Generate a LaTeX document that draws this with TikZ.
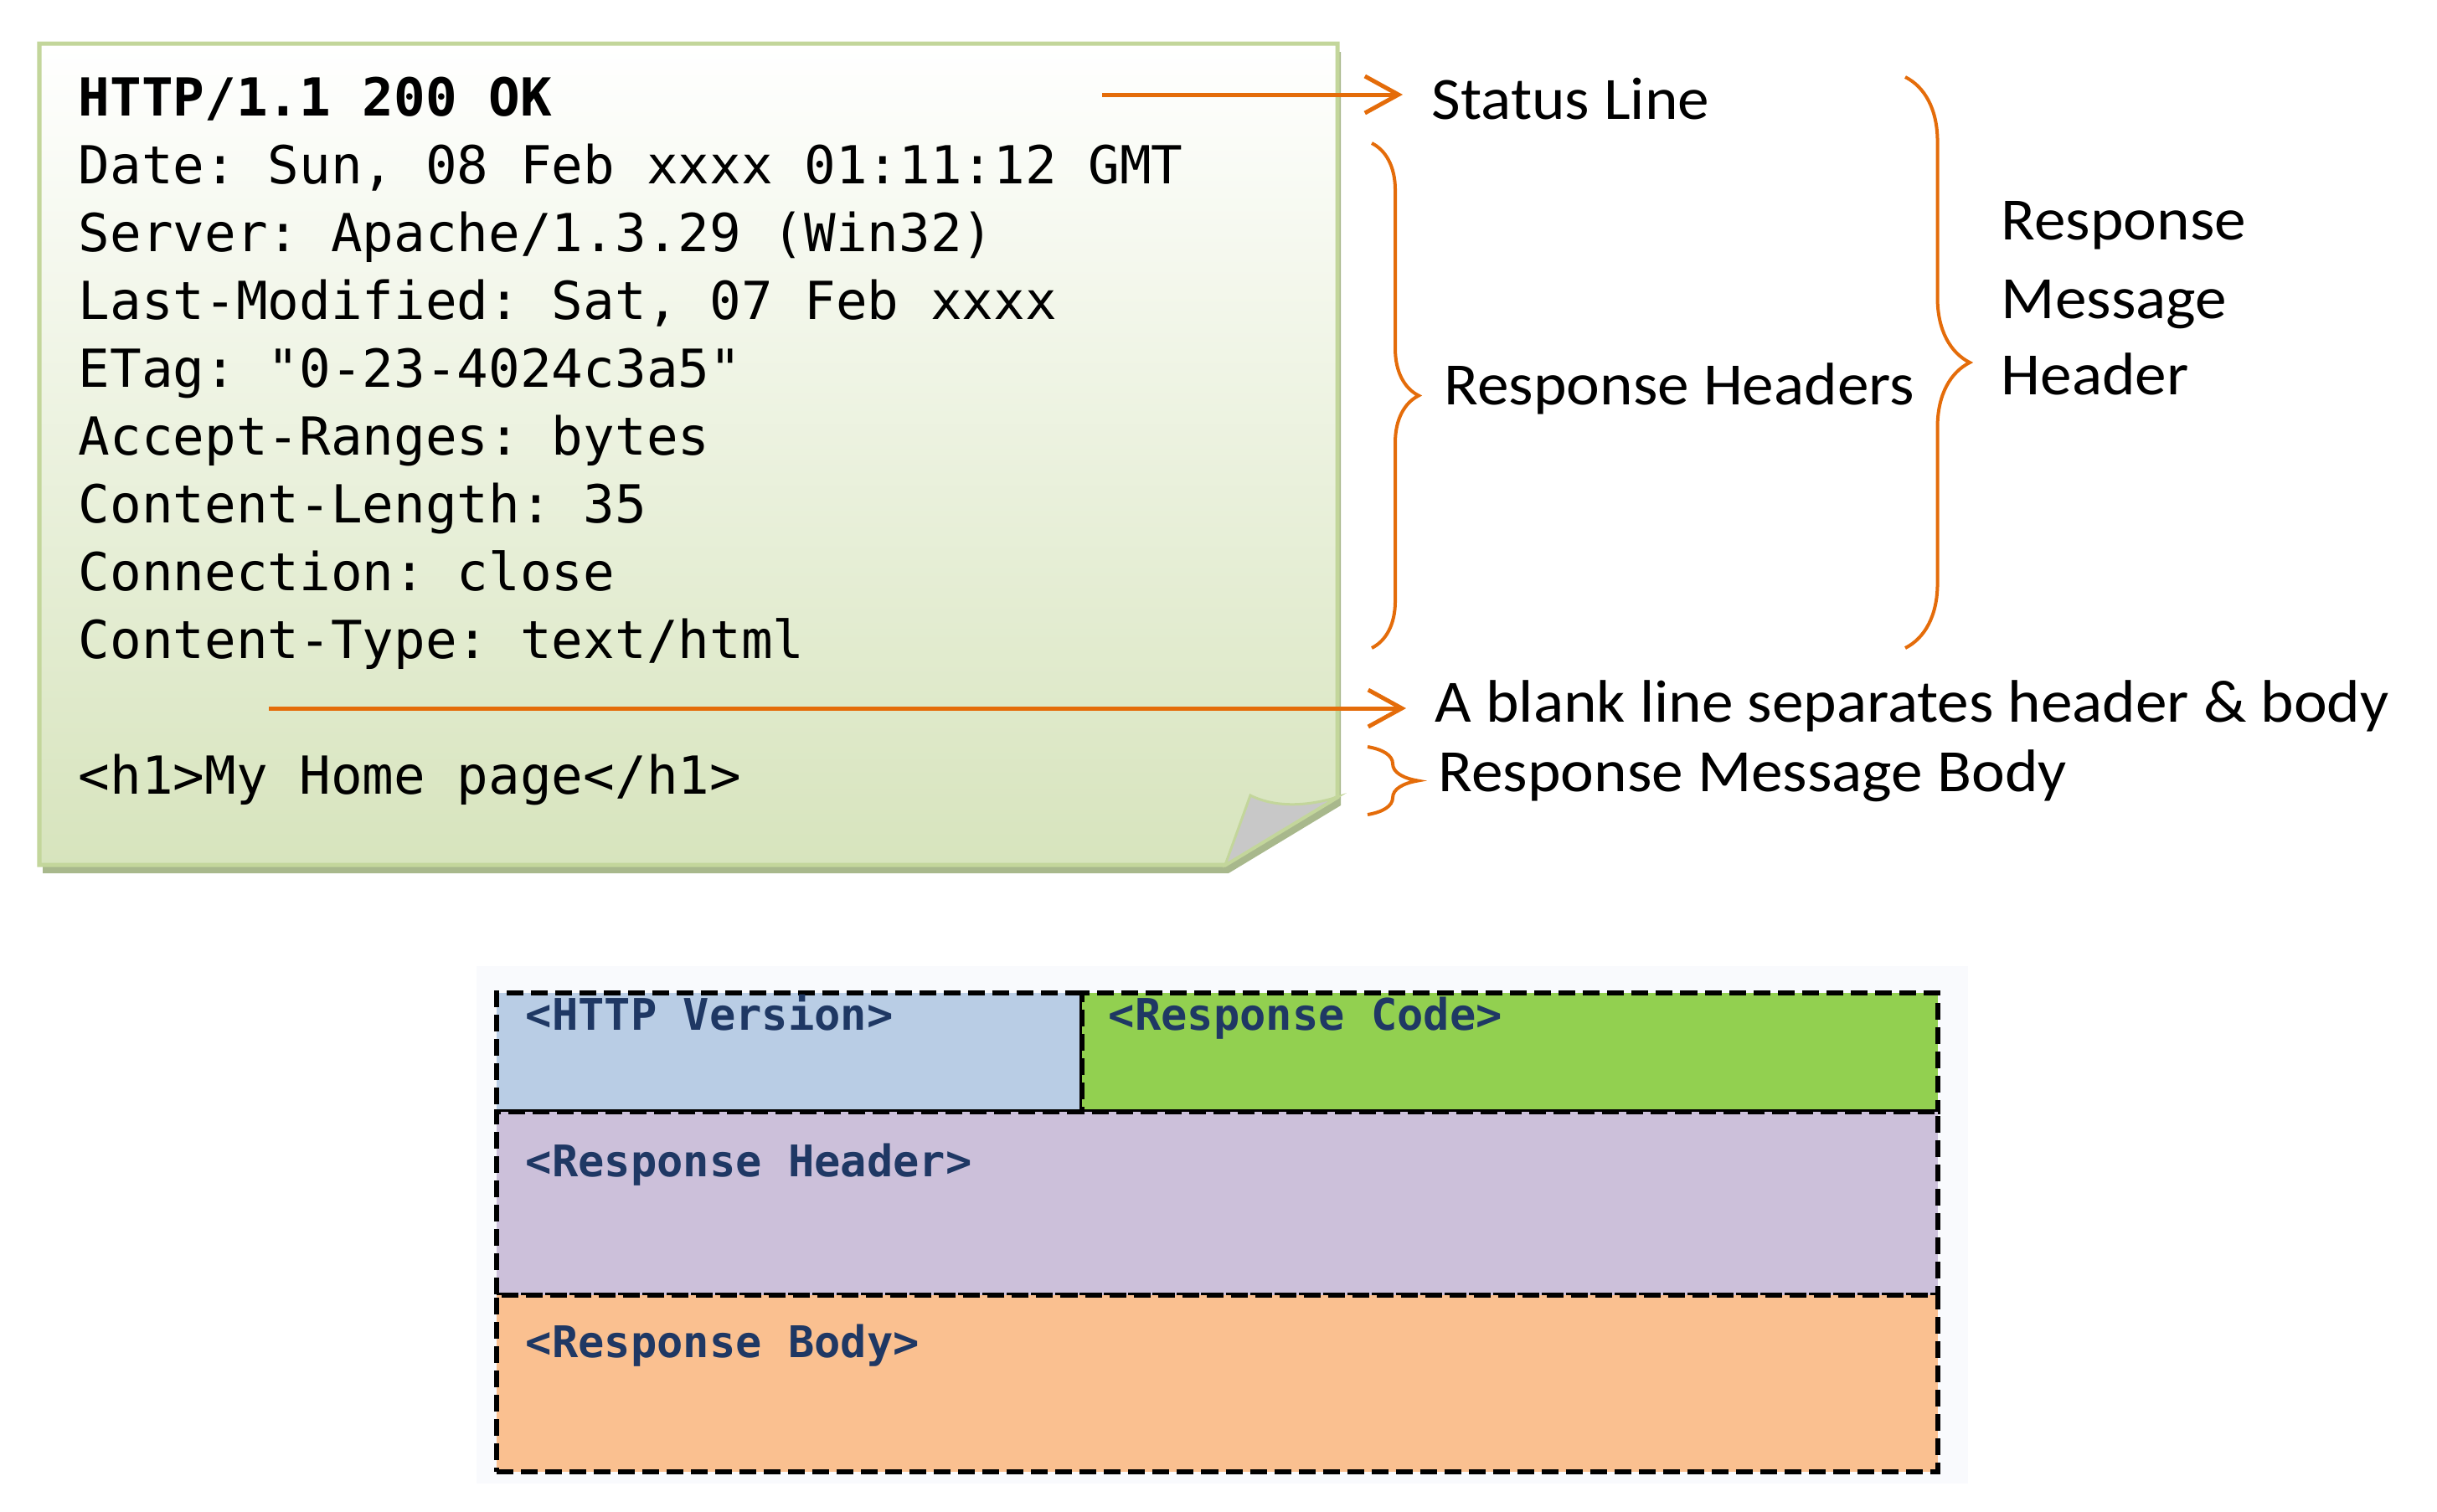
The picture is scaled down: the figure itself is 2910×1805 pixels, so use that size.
\documentclass[tikz,border=0pt]{standalone}
\usepackage{fontspec}
\setmainfont[FakeStretch=1.05]{Carlito}
\setmonofont{DejaVu Sans Mono}
\usetikzlibrary{arrows.meta, positioning, decorations.pathreplacing}
\definecolor{arrowc}{RGB}{228,108,10}
\definecolor{noteline}{RGB}{195,214,155}
\definecolor{notefill}{RGB}{215,228,189}
\definecolor{noteshadow}{RGB}{168,184,140}
\definecolor{foldgrey}{RGB}{200,200,200}
\definecolor{verblue}{RGB}{185,205,229}
\definecolor{codegreen}{RGB}{146,208,80}
\definecolor{hdrpurple}{RGB}{204,192,218}
\definecolor{bodyorange}{RGB}{250,192,144}
\definecolor{celltext}{RGB}{31,56,100}
\definecolor{panelbg}{RGB}{249,250,253}

\begin{document}
\begin{tikzpicture}[
    x=0.01cm, y=-0.01cm,
    code/.style={anchor=base west, inner sep=0, font=\ttfamily\fontsize{17.8}{20}\selectfont},
    lbl/.style={anchor=base west, inner sep=0, font=\fontsize{20.4}{24}\selectfont},
    arrow/.style={-{Straight Barb[length=0.4cm, width=0.44cm]}, line width=0.05cm, arrowc, shorten >=0.34cm},
    curly/.style={decorate, decoration={brace, amplitude=#1}, line width=0.04cm, arrowc},
    cell/.style={draw=black, line width=0.06cm, dash pattern=on 0.2cm off 0.09cm, anchor=north west, inner sep=0},
    celltxt/.style={anchor=base west, inner sep=0, text=celltext, font=\ttfamily\bfseries\fontsize{14.8}{17}\selectfont}
]
    \useasboundingbox (0,0) rectangle (2910,1805);

    % Note with folded corner
    \fill[noteshadow] (51,62) -- (1601,62) -- (1601,962) -- (1467,1043) -- (51,1043) -- cycle;
    \shade[top color=white, middle color=notefill!70, bottom color=notefill, draw=noteline, line width=0.05cm]
        (47,52) -- (1597,52) -- (1597,952) -- (1463,1033) -- (47,1033) -- cycle;
    \filldraw[fill=foldgrey, draw=noteline, line width=0.03cm]
        (1463,1033) -- (1493,950) .. controls (1525,966) and (1565,962) .. (1597,952) -- cycle;

    % Response lines
    \node[code, font=\ttfamily\bfseries\fontsize{17.8}{20}\selectfont] (status) at (93,138) {HTTP/1.1 200 OK};
    \node[code] (date) at (93,219) {Date: Sun, 08 Feb xxxx 01:11:12 GMT};
    \node[code] (server) at (93,300) {Server: Apache/1.3.29 (Win32)};
    \node[code] (lastmod) at (93,381) {Last-Modified: Sat, 07 Feb xxxx};
    \node[code] (etag) at (93,462) {ETag: "0-23-4024c3a5"};
    \node[code] (ranges) at (93,543) {Accept-Ranges: bytes};
    \node[code] (length) at (93,624) {Content-Length: 35};
    \node[code] (conn) at (93,705) {Connection: close};
    \node[code] (ctype) at (93,786) {Content-Type: text/html};
    \node[code] (html) at (93,948) {<h1>My Home page</h1>};

    % Labels
    \node[lbl] (statusLbl) at (1709,142) {Status Line};
    \node[lbl] (hdrsLbl) at (1724,483) {Response Headers};
    \node[lbl] (rmhA) at (2389,286) {Response};
    \node[lbl] (rmhB) at (2389,380) {Message};
    \node[lbl] (rmhC) at (2389,471) {Header};
    \node[lbl] (blankLbl) at (1713,862) {A blank line separates header \& body};
    \node[lbl] (bodyLbl) at (1717,945) {Response Message Body};

    % Arrows
    \coordinate (statusFrom) at (1316,113);
    \coordinate (blankFrom) at (321,846);
    \draw[arrow] (statusFrom) -- (statusFrom -| statusLbl.west);
    \draw[arrow] (blankFrom) -- (blankFrom -| blankLbl.west);

    % Braces
    \coordinate (hdrTop) at (1638,171);
    \coordinate (hdrBot) at (1638,774);
    \coordinate (msgTop) at (2275,92);
    \coordinate (msgBot) at (2275,774);
    \coordinate (bodyTop) at (1633,892);
    \coordinate (bodyBot) at (1633,973);
    \draw[curly=0.56cm] (hdrTop) -- (hdrBot);
    \draw[curly=0.77cm] (msgTop) -- (msgBot);
    \draw[curly=0.6cm] (bodyTop) -- (bodyBot);

    % Message layout
    \fill[panelbg] (569,1154) rectangle (2350,1772);
    \node[cell, fill=verblue, minimum width=6.99cm, minimum height=1.42cm] (verBox) at (590,1183) {};
    \node[cell, fill=codegreen, minimum width=10.21cm, minimum height=1.42cm] (codeBox) at (1289,1183) {};
    \node[cell, fill=hdrpurple, minimum width=17.2cm, minimum height=2.19cm] (hdrBox) at (590,1325) {};
    \node[cell, fill=bodyorange, minimum width=17.2cm, minimum height=2.11cm] (bodyBox) at (590,1544) {};
    \node[celltxt] (verTxt) at (627,1230) {<HTTP Version>};
    \node[celltxt] (codeTxt) at (1323,1230) {<Response Code>};
    \node[celltxt] (hdrTxt) at (627,1405) {<Response Header>};
    \node[celltxt] (bodyTxt) at (627,1621) {<Response Body>};
\end{tikzpicture}
\end{document}
